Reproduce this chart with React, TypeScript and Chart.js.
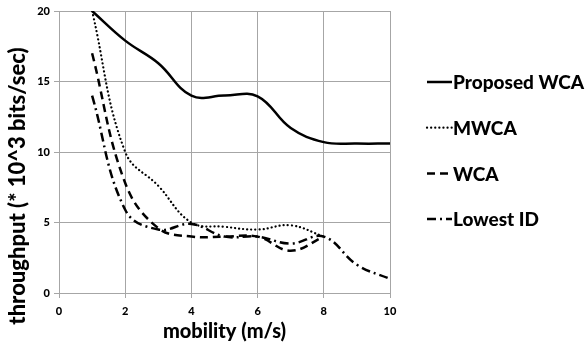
import React, { useEffect, useRef } from "react";
import { Chart, registerables } from "chart.js";

Chart.register(...registerables);

const xValues = [1, 2, 3, 4, 5, 6, 7, 8, 9, 10];
const proposedWCA = [20, 17.9, 16.3, 14.0, 14.0, 13.95, 11.7, 10.7, 10.6, 10.6];
const mwca = [20, 10, 7.6, 5.0, 4.7, 4.5, 4.8, 4.0];
const wca = [17, 7.8, 4.6, 4.0, 4.0, 4.0, 3.0, 4.0];
const lowestID = [14, 5.9, 4.5, 4.9, 4.0, 4.0, 3.5, 4.0, 2.0, 1.0];
const seriesNames = ["Proposed WCA", "MWCA", "WCA", "Lowest ID"];
const xTicks = [0, 2, 4, 6, 8, 10];
const yTicks = [0, 5, 10, 15, 20];
const xTitle = "mobility (m/s)";
const yTitle = "throughput (* 10^3 bits/sec)";

const FONT = "Lato, 'Open Sans', sans-serif";
const GRID = "#a6a6a6";
const TITLE_WEIGHT = "900";

const toPoints = (vals: number[]) => vals.map((v, i) => ({ x: xValues[i], y: v }));

const legendPlugin = {
  id: "customLegend",
  afterDraw(chart: any) {
    const ctx = chart.ctx;
    const area = chart.chartArea;
    ctx.save();
    ctx.translate(18, area.top + (area.bottom - area.top) / 2 + 34);
    ctx.rotate(-Math.PI / 2);
    ctx.fillStyle = "#000";
    ctx.font = `${TITLE_WEIGHT} 22px ${FONT}`;
    ctx.textAlign = "center";
    ctx.textBaseline = "middle";
    ctx.fillText(yTitle, 0, 0);
    ctx.restore();

    const x0 = area.right + 37;
    const len = 25;
    const rowTop = area.top + 71;
    const rowGap = 45.7;
    ctx.save();
    chart.data.datasets.forEach((ds: any, i: number) => {
      const y = rowTop + i * rowGap;
      ctx.beginPath();
      ctx.strokeStyle = ds.borderColor;
      ctx.lineWidth = ds.borderWidth;
      ctx.lineCap = ds.borderCapStyle || "butt";
      ctx.setLineDash(ds.borderDash || []);
      ctx.moveTo(x0, y);
      ctx.lineTo(x0 + len, y);
      ctx.stroke();
      ctx.setLineDash([]);
      ctx.fillStyle = "#000";
      ctx.font = `${TITLE_WEIGHT} 19px ${FONT}`;
      ctx.textBaseline = "middle";
      ctx.textAlign = "left";
      ctx.fillText(ds.label, x0 + len + 1, y + 1);
    });
    ctx.restore();
  },
};

export default function App() {
  const ref = useRef<HTMLCanvasElement | null>(null);
  useEffect(() => {
    if (!ref.current) return;
    const chart = new Chart(ref.current, {
      type: "line",
      data: {
        datasets: [
          {
            label: seriesNames[0],
            data: toPoints(proposedWCA),
            borderColor: "#000",
            borderWidth: 2.5,
            borderDash: [],
            pointRadius: 0,
            tension: 0.4,
          },
          {
            label: seriesNames[1],
            data: toPoints(mwca),
            borderColor: "#000",
            borderWidth: 2.2,
            borderDash: [0.1, 4],
            borderCapStyle: "round",
            pointRadius: 0,
            tension: 0.4,
          },
          {
            label: seriesNames[2],
            data: toPoints(wca),
            borderColor: "#000",
            borderWidth: 2.5,
            borderDash: [8, 5],
            pointRadius: 0,
            tension: 0.4,
          },
          {
            label: seriesNames[3],
            data: toPoints(lowestID),
            borderColor: "#000",
            borderWidth: 2.5,
            borderDash: [9, 4, 2, 4],
            pointRadius: 0,
            tension: 0.4,
          },
        ] as any,
      },
      options: {
        animation: false,
        responsive: false,
        layout: { padding: { top: 11, right: 195, left: 0, bottom: 0 } },
        plugins: { legend: { display: false }, tooltip: { enabled: false } },
        scales: {
          x: {
            type: "linear",
            min: 0,
            max: 10,
            afterBuildTicks: (s: any) => {
              s.ticks = xTicks.map((v) => ({ value: v }));
            },
            afterFit: (s: any) => {
              s.height = 54;
            },
            grid: { color: GRID, lineWidth: 1, tickLength: 5 },
            border: { color: GRID, width: 1 },
            ticks: {
              color: "#000",
              font: { family: FONT, size: 11, weight: TITLE_WEIGHT },
              padding: 7,
              maxRotation: 0,
            },
            title: {
              display: true,
              text: xTitle,
              color: "#000",
              font: { family: FONT, size: 20, weight: TITLE_WEIGHT },
              padding: { top: 0, bottom: 3 },
            },
          },
          y: {
            type: "linear",
            min: 0,
            max: 20,
            afterBuildTicks: (s: any) => {
              s.ticks = yTicks.map((v) => ({ value: v }));
            },
            afterFit: (s: any) => {
              s.width = 59;
            },
            grid: { color: GRID, lineWidth: 1, tickLength: 5 },
            border: { color: GRID, width: 1 },
            ticks: {
              color: "#000",
              font: { family: FONT, size: 11, weight: TITLE_WEIGHT },
              padding: 4,
            },
            title: { display: false },
          },
        },
      },
      plugins: [legendPlugin],
    });
    return () => chart.destroy();
  }, []);
  return (
    <div style={{ position: "absolute", left: 0, top: 0, width: 585, height: 347, background: "#fff" }}>
      <canvas ref={ref} width={585} height={347} />
    </div>
  );
}
